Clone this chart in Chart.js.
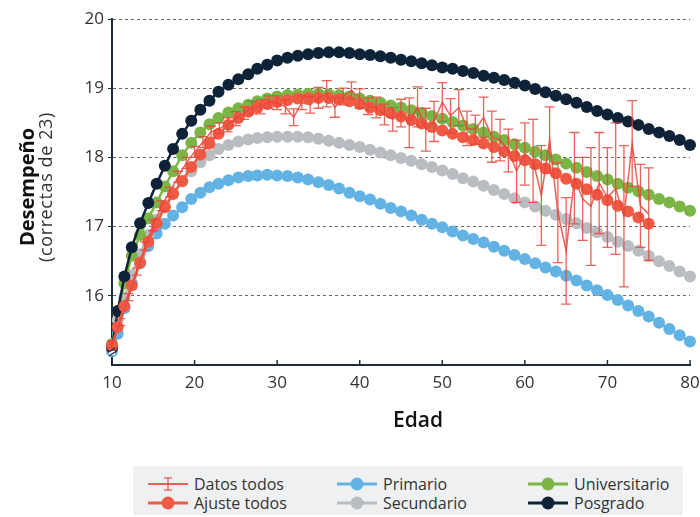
<!DOCTYPE html>
<html>
<head>
<meta charset="utf-8">
<script src="https://cdn.jsdelivr.net/npm/chart.js@4.4.1/dist/chart.umd.min.js"></script>
<style>
  body { margin: 0; background: #fff; font-family: "Open Sans", sans-serif; }
  #wrap { position: relative; width: 700px; height: 517px; }
  #leyenda { position: absolute; left: 133px; top: 466px; width: 550px; height: 49px; background: #eff0f1; }
  .item { position: absolute; display: flex; align-items: center; height: 20px; font-size: 16px; color: #333; }
  .item svg { margin-right: 6px; }
</style>
</head>
<body>
<div id="wrap">
  <canvas id="grafico" width="700" height="517"></canvas>
  <div id="leyenda"></div>
</div>
<script>
// edades donde se evaluan los ajustes
const edadesAjuste = [10, 10.7, 11.5, 12.4, 13.4, 14.4, 15.4, 16.4, 17.4, 18.5, 19.6, 20.7, 21.8, 22.9, 24.1, 25.3, 26.5, 27.6, 28.8, 30,
  31.25, 32.5, 33.75, 35, 36.25, 37.5, 38.75, 40, 41.25, 42.5, 43.75, 45, 46.25, 47.5, 48.75, 50, 51.25, 52.5, 53.75, 55,
  56.25, 57.5, 58.75, 60, 61.25, 62.5, 63.75, 65, 66.25, 67.5, 68.75, 70, 71.25, 72.5, 73.75, 75, 76.25, 77.5, 78.75, 80];

const posgrado = [15.25, 15.78, 16.28, 16.70, 17.05, 17.34, 17.62, 17.88, 18.12, 18.34, 18.53, 18.69, 18.82, 18.95, 19.05, 19.13, 19.20, 19.28, 19.34, 19.40,
  19.44, 19.47, 19.49, 19.51, 19.52, 19.52, 19.51, 19.49, 19.48, 19.46, 19.44, 19.41, 19.39, 19.36, 19.33, 19.30, 19.28, 19.25, 19.22, 19.18,
  19.15, 19.12, 19.08, 19.04, 18.99, 18.94, 18.89, 18.84, 18.79, 18.73, 18.67, 18.62, 18.57, 18.52, 18.47, 18.41, 18.36, 18.31, 18.25, 18.18];

const universitario = [15.30, 15.78, 16.18, 16.58, 16.88, 17.12, 17.35, 17.58, 17.80, 18.03, 18.21, 18.36, 18.48, 18.57, 18.65, 18.71, 18.76, 18.81, 18.85, 18.88,
  18.90, 18.91, 18.92, 18.92, 18.91, 18.90, 18.88, 18.85, 18.82, 18.79, 18.75, 18.72, 18.68, 18.64, 18.60, 18.56, 18.51, 18.46, 18.41, 18.36,
  18.30, 18.25, 18.19, 18.14, 18.08, 18.03, 17.97, 17.91, 17.85, 17.79, 17.73, 17.68, 17.62, 17.56, 17.51, 17.46, 17.40, 17.35, 17.29, 17.23];

const secundario = [15.30, 15.65, 15.98, 16.30, 16.60, 16.88, 17.10, 17.30, 17.48, 17.65, 17.80, 17.93, 18.03, 18.12, 18.18, 18.23, 18.26, 18.28, 18.29, 18.30,
  18.30, 18.30, 18.29, 18.27, 18.24, 18.21, 18.18, 18.15, 18.11, 18.07, 18.03, 17.99, 17.95, 17.90, 17.86, 17.81, 17.76, 17.70, 17.65, 17.59,
  17.53, 17.47, 17.41, 17.35, 17.29, 17.23, 17.17, 17.11, 17.05, 16.98, 16.92, 16.85, 16.78, 16.72, 16.65, 16.58, 16.50, 16.43, 16.35, 16.28];

const primario = [15.20, 15.45, 15.82, 16.18, 16.47, 16.72, 16.90, 17.04, 17.16, 17.28, 17.40, 17.49, 17.57, 17.62, 17.67, 17.71, 17.73, 17.74, 17.75, 17.74,
  17.73, 17.71, 17.68, 17.64, 17.60, 17.55, 17.49, 17.44, 17.39, 17.33, 17.27, 17.22, 17.16, 17.10, 17.04, 16.99, 16.93, 16.87, 16.82, 16.77,
  16.71, 16.65, 16.59, 16.53, 16.47, 16.41, 16.35, 16.29, 16.22, 16.15, 16.08, 16.01, 15.94, 15.86, 15.78, 15.70, 15.61, 15.52, 15.43, 15.34];

// el ajuste general llega hasta los 75
const ajusteTodos = [15.28, 15.55, 15.85, 16.15, 16.48, 16.78, 17.05, 17.28, 17.47, 17.66, 17.86, 18.04, 18.20, 18.34, 18.47, 18.57, 18.66, 18.72, 18.77, 18.80,
  18.83, 18.85, 18.86, 18.86, 18.86, 18.84, 18.81, 18.77, 18.72, 18.68, 18.64, 18.59, 18.54, 18.49, 18.44, 18.39, 18.34, 18.29, 18.25, 18.20,
  18.15, 18.09, 18.02, 17.96, 17.90, 17.84, 17.77, 17.69, 17.62, 17.54, 17.46, 17.38, 17.30, 17.22, 17.13, 17.04];

// datos crudos, un punto por edad (10 a 75) con su error
const edadesDatos = [10, 11, 12, 13, 14, 15, 16, 17, 18, 19, 20, 21, 22, 23, 24, 25, 26, 27, 28, 29,
  30, 31, 32, 33, 34, 35, 36, 37, 38, 39, 40, 41, 42, 43, 44, 45, 46, 47, 48, 49,
  50, 51, 52, 53, 54, 55, 56, 57, 58, 59, 60, 61, 62, 63, 64, 65, 66, 67, 68, 69,
  70, 71, 72, 73, 74, 75];

const datosTodos = [15.30, 15.62, 15.98, 16.35, 16.72, 17.02, 17.30, 17.50, 17.72, 17.92,
  18.08, 18.22, 18.37, 18.42, 18.47, 18.56, 18.64, 18.72, 18.73, 18.80,
  18.79, 18.73, 18.58, 18.79, 18.76, 18.86, 18.92, 18.72, 18.88, 18.97,
  18.85, 18.74, 18.72, 18.62, 18.55, 18.64, 18.50, 18.73, 18.40, 18.52,
  18.80, 18.60, 18.72, 18.42, 18.40, 18.58, 18.30, 18.25, 18.10, 17.80,
  18.05, 17.95, 17.45, 18.25, 17.20, 16.65, 17.70, 17.40, 17.29, 17.63,
  17.42, 17.55, 17.15, 18.20, 17.30, 17.18];

const errorDatos = [0.05, 0.05, 0.05, 0.05, 0.06, 0.08, 0.07, 0.07, 0.08, 0.08,
  0.08, 0.08, 0.08, 0.08, 0.10, 0.10, 0.09, 0.09, 0.10, 0.09,
  0.10, 0.10, 0.12, 0.10, 0.12, 0.15, 0.19, 0.14, 0.12, 0.12,
  0.14, 0.12, 0.15, 0.15, 0.17, 0.20, 0.36, 0.29, 0.31, 0.29,
  0.28, 0.25, 0.26, 0.25, 0.21, 0.29, 0.37, 0.30, 0.31, 0.45,
  0.45, 0.60, 0.72, 0.48, 0.72, 0.77, 0.66, 0.60, 0.85, 0.73,
  0.72, 0.95, 1.02, 0.62, 0.60, 0.67];

const ticksX = [10, 20, 30, 40, 50, 60, 70, 80];
const ticksY = [16, 17, 18, 19, 20];

const COLORES = {
  datos: "rgba(232, 70, 60, 0.85)",
  ajuste: "#ef5a44",
  primario: "#62b3e4",
  secundario: "#b9bdc2",
  universitario: "#7ab545",
  posgrado: "#0e2238",
};
const EJE = "#1d2d3f";
const FUENTE = '"Open Sans", sans-serif';

const serie = (edades, valores) => valores.map((v, i) => ({ x: edades[i], y: v }));

const curva = (label, valores, color) => ({
  label,
  data: serie(edadesAjuste, valores),
  borderColor: color,
  backgroundColor: color,
  pointBackgroundColor: color,
  borderWidth: 2.5,
  pointRadius: 6,
  pointBorderWidth: 0,
  clip: false,
});

// barras de error, titulos y detalles de los ejes
const extras = {
  id: "extras",
  afterDatasetsDraw(chart) {
    const { ctx, chartArea: a, scales: { x, y } } = chart;
    ctx.save();
    ctx.strokeStyle = COLORES.datos;
    ctx.lineWidth = 1.3;
    edadesDatos.forEach((e, i) => {
      const px = x.getPixelForValue(e);
      const t = y.getPixelForValue(datosTodos[i] + errorDatos[i]);
      const b = y.getPixelForValue(datosTodos[i] - errorDatos[i]);
      ctx.beginPath();
      ctx.moveTo(px, t); ctx.lineTo(px, b);
      ctx.moveTo(px - 5, t); ctx.lineTo(px + 5, t);
      ctx.moveTo(px - 5, b); ctx.lineTo(px + 5, b);
      ctx.stroke();
    });

    // marcas del eje x hacia adentro
    ctx.strokeStyle = EJE;
    ctx.lineWidth = 1.5;
    ticksX.forEach((v) => {
      const px = x.getPixelForValue(v);
      ctx.beginPath();
      ctx.moveTo(px, a.bottom);
      ctx.lineTo(px, a.bottom - 5);
      ctx.stroke();
    });

    // corte del eje y
    ctx.fillStyle = "#fff";
    ctx.fillRect(a.left - 3, a.bottom - 14, 6, 4);
    ctx.strokeStyle = EJE;
    ctx.lineWidth = 1.5;
    ctx.beginPath();
    ctx.moveTo(a.left - 3, a.bottom - 9); ctx.lineTo(a.left + 3, a.bottom - 13);
    ctx.moveTo(a.left - 3, a.bottom - 13); ctx.lineTo(a.left + 3, a.bottom - 17);
    ctx.stroke();
    ctx.restore();
  },
  afterDraw(chart) {
    const { ctx } = chart;
    ctx.save();
    ctx.fillStyle = "#111";
    ctx.textAlign = "center";
    ctx.textBaseline = "middle";
    ctx.font = "600 21px " + FUENTE;
    ctx.fillText("Edad", 418, 421);

    ctx.translate(28, 187);
    ctx.rotate(-Math.PI / 2);
    ctx.font = "bold 20px " + FUENTE;
    ctx.fillText("Desempeño", 0, 0);
    ctx.font = "18px " + FUENTE;
    ctx.letterSpacing = "0.6px";
    ctx.fillStyle = "#333";
    ctx.fillText("(correctas de 23)", 0, 19);
    ctx.restore();
  },
};

new Chart(document.getElementById("grafico"), {
  type: "line",
  data: {
    datasets: [
      {
        label: "Datos todos",
        data: serie(edadesDatos, datosTodos),
        borderColor: COLORES.datos,
        borderWidth: 1.5,
        pointRadius: 0,
        clip: false,
      },
      curva("Ajuste todos", ajusteTodos, COLORES.ajuste),
      curva("Posgrado", posgrado, COLORES.posgrado),
      curva("Universitario", universitario, COLORES.universitario),
      curva("Secundario", secundario, COLORES.secundario),
      curva("Primario", primario, COLORES.primario),
    ],
  },
  options: {
    responsive: false,
    animation: false,
    devicePixelRatio: 1,
    layout: { padding: { top: 19, right: 10, left: 0, bottom: 0 } },
    plugins: { legend: { display: false }, tooltip: { enabled: false } },
    scales: {
      x: {
        type: "linear",
        min: 10,
        max: 80,
        afterBuildTicks: (s) => { s.ticks = ticksX.map((v) => ({ value: v })); },
        afterFit: (s) => { s.height = 152; s.paddingLeft = 0; s.paddingRight = 0; },
        grid: { display: false, drawTicks: false },
        border: { color: EJE, width: 2 },
        ticks: { font: { family: FUENTE, size: 17 }, color: "#333", padding: 8, maxRotation: 0 },
      },
      y: {
        type: "linear",
        min: 15,
        max: 20,
        afterBuildTicks: (s) => { s.ticks = ticksY.map((v) => ({ value: v })); },
        afterFit: (s) => { s.width = 112; s.paddingTop = 0; s.paddingBottom = 0; },
        grid: { color: "#666", lineWidth: 1, tickColor: EJE, tickLength: 4 },
        border: { color: EJE, width: 2, dash: [3, 3] },
        ticks: { font: { family: FUENTE, size: 17 }, color: "#333", padding: 4 },
      },
    },
  },
  plugins: [extras],
});

// leyenda en tres columnas
const itemsLeyenda = [
  { texto: "Datos todos", color: COLORES.datos, tipo: "error", col: 0, fila: 0 },
  { texto: "Ajuste todos", color: COLORES.ajuste, col: 0, fila: 1 },
  { texto: "Primario", color: COLORES.primario, col: 1, fila: 0 },
  { texto: "Secundario", color: COLORES.secundario, col: 1, fila: 1 },
  { texto: "Universitario", color: COLORES.universitario, col: 2, fila: 0 },
  { texto: "Posgrado", color: COLORES.posgrado, col: 2, fila: 1 },
];
const colLeft = [15, 204, 395];
const filaTop = [8, 27];
const leyenda = document.getElementById("leyenda");
itemsLeyenda.forEach((it) => {
  const muestra = it.tipo === "error"
    ? `<line x1="0" y1="10" x2="40" y2="10" stroke="${it.color}" stroke-width="1.8"/>
       <line x1="20" y1="4" x2="20" y2="16" stroke="${it.color}" stroke-width="1.3"/>
       <line x1="16" y1="4" x2="24" y2="4" stroke="${it.color}" stroke-width="1.3"/>
       <line x1="16" y1="16" x2="24" y2="16" stroke="${it.color}" stroke-width="1.3"/>`
    : `<line x1="0" y1="10" x2="40" y2="10" stroke="${it.color}" stroke-width="3"/>
       <circle cx="20" cy="10" r="6.5" fill="${it.color}"/>`;
  const div = document.createElement("div");
  div.className = "item";
  div.style.left = colLeft[it.col] + "px";
  div.style.top = filaTop[it.fila] + "px";
  div.innerHTML = `<svg width="40" height="20">${muestra}</svg><span>${it.texto}</span>`;
  leyenda.appendChild(div);
});
</script>
</body>
</html>
